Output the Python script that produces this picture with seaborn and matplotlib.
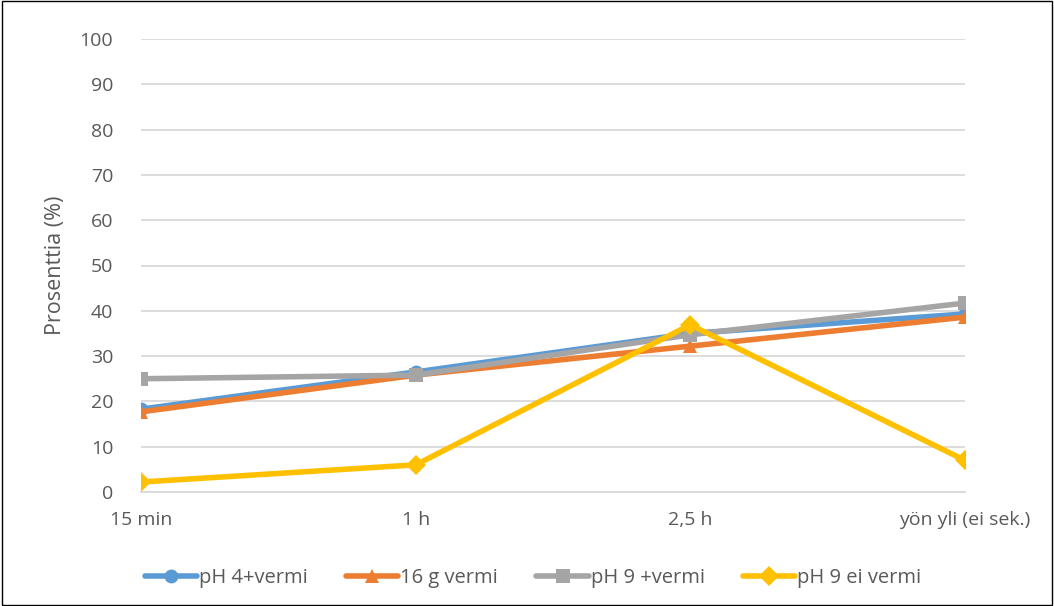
import pandas as pd
import matplotlib.pyplot as plt
import seaborn as sns

times = ['15 min', '1 h', '2,5 h', 'yön yli (ei sek.)']
series_names = ['pH 4+vermi', '16 g vermi', 'pH 9 +vermi', 'pH 9 ei vermi']
ph4_vermi = [18.3, 26.5, 35.0, 39.3]
g16_vermi = [17.7, 25.8, 32.2, 38.6]
ph9_vermi = [25.0, 25.8, 34.7, 41.7]
ph9_ei_vermi = [2.2, 6.0, 36.9, 7.0]
y_ticks = list(range(0, 101, 10))

colors = ['#5b9bd5', '#ed7d31', '#a5a5a5', '#ffc000']
markers = ['o', '^', 's', 'D']
textcolor = '#595959'

sns.set_style('white', rc={
    'axes.edgecolor': '#d9d9d9',
    'xtick.color': textcolor,
    'ytick.color': textcolor,
    'axes.labelcolor': textcolor,
})
plt.rcParams['font.family'] = ['Open Sans', 'DejaVu Sans']

df = pd.DataFrame({
    'aika': times * 4,
    'arvo': ph4_vermi + g16_vermi + ph9_vermi + ph9_ei_vermi,
    'sarja': [s for s in series_names for _ in times],
})

fig = plt.figure(figsize=(10.54, 6.06), dpi=100)
ax = fig.add_axes([141 / 1054, 1 - 492 / 606, (965 - 141) / 1054, (492 - 39) / 606])

sns.lineplot(data=df, x='aika', y='arvo', hue='sarja', style='sarja',
             palette=colors, markers=markers, dashes=False, sort=False,
             linewidth=4, markersize=10, markeredgewidth=0, ax=ax)

ax.set_ylim(0, 100)
ax.set_yticks(y_ticks)
ax.set_xlim(-0.001, 3.001)
ax.yaxis.grid(True, color='#d9d9d9', linewidth=1.3)
ax.set_axisbelow(True)
for side in ['top', 'left', 'right']:
    ax.spines[side].set_visible(False)
ax.spines['bottom'].set_color('#d9d9d9')
ax.spines['bottom'].set_linewidth(1.3)
ax.tick_params(axis='y', length=0, labelsize=14, pad=20)
ax.tick_params(axis='x', length=0, labelsize=14, pad=14)
ax.set_xlabel('')
ax.set_ylabel('Prosenttia (%)', fontsize=15.5, labelpad=10)

handles, labels = ax.get_legend_handles_labels()
ax.legend(handles, labels, loc='center', bbox_to_anchor=(0.5 - 20 / 824, -0.19),
          ncol=4, frameon=False, fontsize=14.5, labelcolor=textcolor,
          handlelength=2.6, columnspacing=1.9, handletextpad=0.1)

border = plt.Rectangle((0.0015, 0.0015), 0.997, 0.997, transform=fig.transFigure,
                       fill=False, edgecolor='black', linewidth=1)
fig.add_artist(border)

fig.savefig('out.png', dpi=100)
